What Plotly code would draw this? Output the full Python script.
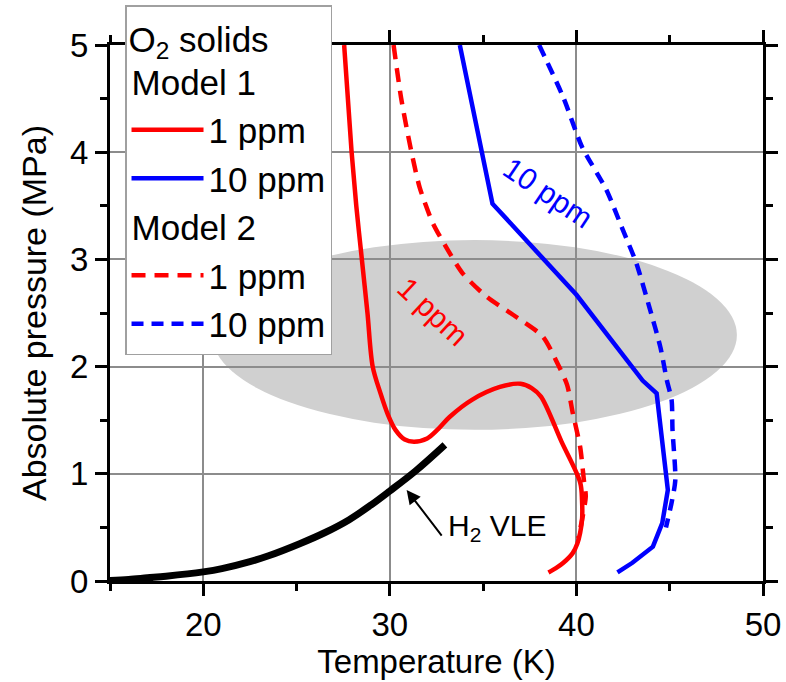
import plotly.graph_objects as go

# ---- data ----
m1_1ppm_T = [27.55, 27.95, 28.2, 28.5, 28.8, 29.08, 29.5, 29.9, 30.3, 30.8, 31.3, 32.0, 32.6, 33.2, 34.4, 35.9, 37.0, 37.6, 38.1, 39.2, 40.2, 40.3, 40.3, 40.2, 40.05, 39.8, 39.3, 38.9, 38.5]
m1_1ppm_P = [5.0, 4.0, 3.5, 3.0, 2.5, 2.0, 1.75, 1.55, 1.41, 1.32, 1.30, 1.33, 1.42, 1.53, 1.69, 1.81, 1.84, 1.80, 1.72, 1.30, 0.92, 0.75, 0.57, 0.45, 0.35, 0.26, 0.17, 0.12, 0.08]

m1_10ppm_T = [33.75, 34.66, 35.5, 40.0, 43.55, 44.3, 44.83, 44.9, 44.6, 44.1, 43.0, 42.2]
m1_10ppm_P = [5.0, 4.21, 3.52, 2.67, 1.87, 1.75, 0.97, 0.85, 0.54, 0.32, 0.17, 0.08]

m2_1ppm_T = [30.2, 30.6, 31.1, 31.6, 32.3, 33.0, 33.9, 35.2, 36.8, 38.2, 38.9, 39.5, 39.8, 40.2, 40.4, 40.5, 40.3, 40.1]
m2_1ppm_P = [5.0, 4.51, 4.05, 3.67, 3.34, 3.12, 2.87, 2.65, 2.46, 2.28, 2.06, 1.83, 1.57, 1.25, 0.94, 0.79, 0.57, 0.40]

m2_10ppm_T = [38.0, 39.3, 40.3, 41.6, 42.5, 43.2, 43.9, 44.5, 44.85, 45.1, 45.15, 45.3, 45.1, 44.8]
m2_10ppm_P = [5.0, 4.51, 4.05, 3.65, 3.27, 2.97, 2.56, 2.18, 1.87, 1.69, 1.41, 0.94, 0.73, 0.50]

h2_vle_T = [15.0, 16.0, 17.0, 18.0, 20.0, 21.0, 22.5, 23.5, 25.2, 26.5, 27.8, 29.0, 30.0, 31.4, 32.95]
h2_vle_P = [0.005, 0.015, 0.03, 0.045, 0.085, 0.115, 0.18, 0.235, 0.35, 0.45, 0.57, 0.71, 0.84, 1.03, 1.27]

x_ticks = [20, 30, 40, 50]
y_ticks = [0, 1, 2, 3, 4, 5]

FONT = "Liberation Sans, Arial, sans-serif"
RED = "#ff0000"
BLUE = "#0000ff"

fig = go.Figure()

fig.add_trace(go.Scatter(x=h2_vle_T, y=h2_vle_P, mode="lines",
                         line=dict(color="black", width=7, shape="spline", smoothing=1.0),
                         showlegend=False))

fig.add_trace(go.Scatter(x=m1_1ppm_T, y=m1_1ppm_P, mode="lines", name="1 ppm",
                         legendgroup="m1", legendgrouptitle_text="Model 1",
                         line=dict(color=RED, width=4.5, shape="spline", smoothing=0.9)))
fig.add_trace(go.Scatter(x=m1_10ppm_T, y=m1_10ppm_P, mode="lines", name="10 ppm",
                         legendgroup="m1",
                         line=dict(color=BLUE, width=4.5)))
fig.add_trace(go.Scatter(x=m2_1ppm_T, y=m2_1ppm_P, mode="lines", name="1 ppm",
                         legendgroup="m2", legendgrouptitle_text="Model 2",
                         line=dict(color=RED, width=4.5, dash="14px,9px", shape="spline", smoothing=0.7)))
fig.add_trace(go.Scatter(x=m2_10ppm_T, y=m2_10ppm_P, mode="lines", name="10 ppm",
                         legendgroup="m2",
                         line=dict(color=BLUE, width=4.5, dash="12px,8px", shape="spline", smoothing=0.7)))

# grey ellipse
fig.add_shape(type="circle", xref="x", yref="y", x0=20.47, x1=48.6, y0=1.41, y1=3.18,
              fillcolor="#d0d0d0", line=dict(width=0), layer="below")

# labels
fig.add_annotation(x=38.46, y=3.62, xref="x", yref="y", text="10 ppm", showarrow=False,
                   textangle=34, font=dict(family=FONT, size=30, color=BLUE))
fig.add_annotation(x=32.3, y=2.51, xref="x", yref="y", text="1 ppm", showarrow=False,
                   textangle=43, font=dict(family=FONT, size=30, color=RED))
fig.add_annotation(x=30.9, y=0.85, ax=32.84, ay=0.41, xref="x", yref="y", axref="x", ayref="y",
                   text="", showarrow=True, arrowhead=2, arrowsize=1.4, arrowwidth=2,
                   arrowcolor="black")
fig.add_annotation(x=33.0, y=0.50, xref="x", yref="y", text="H<sub>2</sub> VLE", showarrow=False,
                   xanchor="left", yanchor="middle", font=dict(family=FONT, size=30, color="black"))

axis_common = dict(showline=True, linecolor="black", linewidth=3, mirror="ticks",
                   ticks="outside", ticklen=12, tickwidth=2.5, tickcolor="black",
                   showgrid=True, gridcolor="#8c8c8c", gridwidth=1.5, zeroline=False,
                   tickfont=dict(family=FONT, size=33, color="black"))

fig.update_xaxes(range=[15, 50], tickvals=x_ticks, ticktext=[str(v) for v in x_ticks],
                 title=dict(text="Temperature (K)", font=dict(family=FONT, size=33, color="black"), standoff=8),
                 minor=dict(ticks="outside", ticklen=7, tickwidth=2.5, tickcolor="black", dtick=5, tick0=15, showgrid=False),
                 **axis_common)
fig.update_yaxes(range=[0, 5], tickvals=y_ticks, ticktext=[str(v) for v in y_ticks],
                 title=dict(text="Absolute pressure (MPa)", font=dict(family=FONT, size=34, color="black"), standoff=14),
                 minor=dict(ticks="outside", ticklen=7, tickwidth=2.5, tickcolor="black", dtick=0.5, tick0=0, showgrid=False),
                 **axis_common)

fig.update_layout(
    width=786, height=682,
    margin=dict(l=110, r=23, t=45, b=101, autoexpand=False),
    paper_bgcolor="white", plot_bgcolor="white",
    font=dict(family=FONT, color="black"),
    legend=dict(x=0.023, y=1.0746, xanchor="left", yanchor="top",
                bgcolor="white", bordercolor="#a0a0a0", borderwidth=1.5,
                font=dict(family=FONT, size=35, color="black"),
                title=dict(text="O<sub>2</sub> solids", font=dict(family=FONT, size=35, color="black")),
                grouptitlefont=dict(family=FONT, size=35, color="black"),
                traceorder="grouped", tracegroupgap=0, itemwidth=72, maxheight=600),
)

fig.write_html("out.html")
